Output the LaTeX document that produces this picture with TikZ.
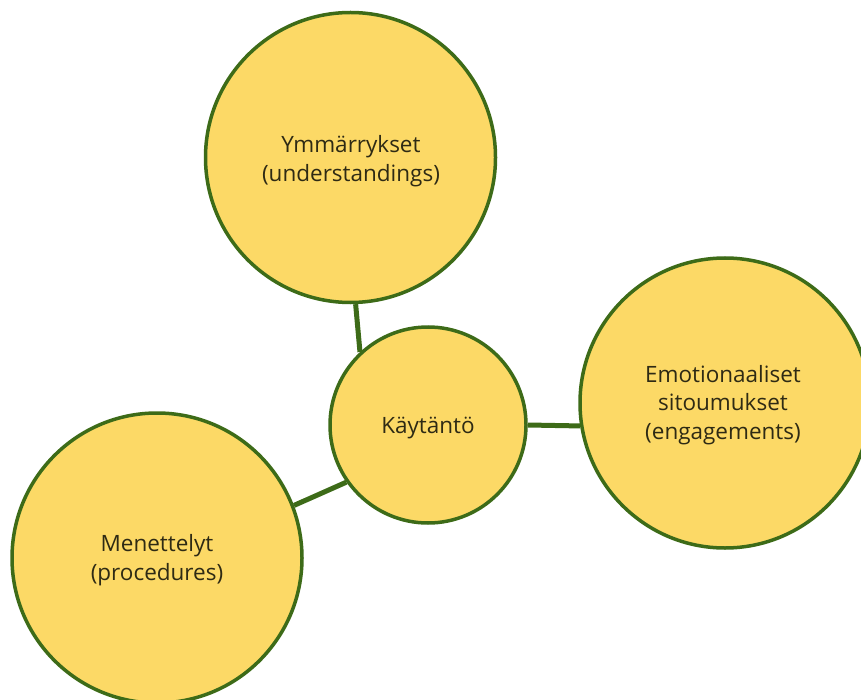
\documentclass[tikz,border=0pt]{standalone}
\usepackage{fontspec}
\setmainfont{Open Sans}
\definecolor{fillyel}{HTML}{FCD966}
\definecolor{edgegreen}{HTML}{3D6B18}
\definecolor{txt}{HTML}{2E2A14}
\begin{document}
\begin{tikzpicture}[x=1pt,y=-1pt,
  bubble/.style={circle, draw=edgegreen, line width=3.5pt, fill=fillyel, inner sep=0pt},
  label/.style={align=center, text=txt, font=\fontsize{22.5}{28.5}\selectfont},
  link/.style={draw=edgegreen, line width=5pt}]
\path[use as bounding box] (0,0) rectangle (861,700);
\clip (0,0) rectangle (861,700);
\node[bubble, minimum size=290pt] (top) at (350.5,157.5) {};
\node[bubble, minimum size=196pt] (mid) at (428,425) {};
\node[bubble, minimum size=290pt] (right) at (725,403) {};
\node[bubble, minimum size=290pt] (left) at (157,558) {};
\node[label] (toptext) at (351,161) {Ymmärrykset\\(understandings)};
\node[label] (midtext) at (428,428) {Käytäntö};
\node[label] (righttext) at (723,405) {Emotionaaliset\\sitoumukset\\(engagements)};
\node[label] (lefttext) at (157,560) {Menettelyt\\(procedures)};
\draw[link] (top.-88) -- (mid.133);
\draw[link] (mid.0) -- (right.189);
\draw[link] (mid.215) -- (left.21);
\end{tikzpicture}
\end{document}
